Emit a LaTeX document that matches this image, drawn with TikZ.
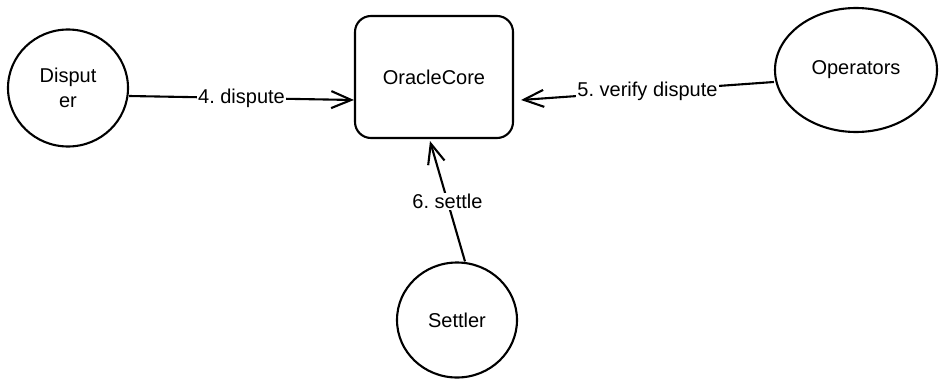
\documentclass[tikz,border=0pt]{standalone}
\usepackage{fontspec}
\setmainfont{Liberation Sans}
\frenchspacing
\usetikzlibrary{arrows.meta,shapes.geometric}

\begin{document}
\begin{tikzpicture}[x=1pt,y=-1pt,
  every node/.style={font=\fontsize{20}{25}\selectfont},
  actor/.style={draw,line width=2.1pt,ellipse,inner sep=0pt},
  corebox/.style={draw,line width=2.1pt,rounded corners=16pt,
    minimum width=158pt,minimum height=122pt},
  flow/.style={line width=2.1pt,-{Straight Barb[length=20pt,width=17pt,line width=2.1pt]}},
  lbl/.style={fill=white,inner sep=1pt}]
  \useasboundingbox (0,0) rectangle (947,388);
  % the four parties
  \node[corebox] (core) at (434,77) {OracleCore};
  \node[actor,minimum width=120pt,minimum height=117pt,align=center] (disputer) at (68,88) {Disput\\er};
  \node[actor,minimum width=162pt,minimum height=124pt] (operators) at (856,70) {Operators};
  \node[actor,minimum width=120pt,minimum height=115pt] (settler) at (457,320) {Settler};
  % calls into the core
  \draw[flow] ([yshift=-8pt]disputer.east) -- node[lbl] {4. dispute} ([yshift=-23pt]core.west);
  \draw[flow] ([yshift=-12pt]operators.west) -- node[lbl] {5. verify dispute} ([xshift=7pt,yshift=-23pt]core.east);
  \draw[flow] ([xshift=8pt]settler.north) -- node[lbl] {6. settle} ([xshift=-4pt,yshift=-2pt]core.south);
\end{tikzpicture}
\end{document}
